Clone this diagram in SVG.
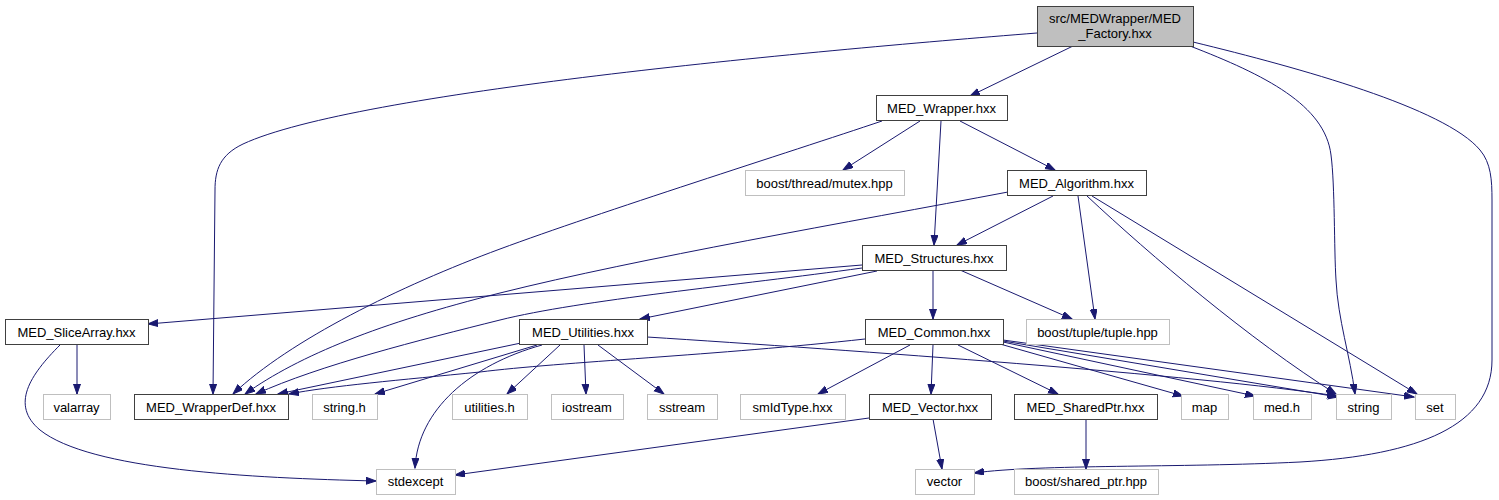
<svg xmlns="http://www.w3.org/2000/svg" width="1499" height="500" viewBox="0 0 1499 500">
<style>
.n rect{fill:#ffffff;stroke:#404040;stroke-width:1;shape-rendering:crispEdges}
.g rect{fill:#ffffff;stroke:#bfbfbf;stroke-width:1;shape-rendering:crispEdges}
.r rect{fill:#bfbfbf;stroke:#404040;stroke-width:1;shape-rendering:crispEdges}
text{font-family:"Liberation Sans",Arial,Helvetica,sans-serif;font-size:13px;text-anchor:middle;fill:#000000}
#edges path{fill:none;stroke:#191970;stroke-width:1;marker-end:url(#ah)}
</style>
<defs>
<marker id="ah" markerUnits="userSpaceOnUse" markerWidth="12" markerHeight="9" refX="10" refY="3.5" orient="auto">
<path d="M0,0 L10,3.5 L0,7 z" fill="#191970" stroke="#191970" stroke-width="1"/>
</marker>
</defs>
<rect width="1499" height="500" fill="#ffffff"/>
<g id="edges">
<path d="M1073,46 L970,96"/>
<path d="M1037,33 C810,51 355,92 243,144 C220,155 215,170 215,190 L213,394"/>
<path d="M1190,46 C1265,75 1325,105 1331,155 C1335,185 1334,250 1336,280 C1338,320 1350,355 1355,394"/>
<path d="M1193,42 C1300,68 1445,108 1480,150 C1491,163 1492,180 1492,200 L1492,360 C1492,425 1420,455 1300,462 C1180,468 1040,464 974,473"/>
<path d="M882,121 C790,152 600,212 500,249 C400,286 290,340 233,394"/>
<path d="M920,121 L843,170"/>
<path d="M941,121 L934,245"/>
<path d="M960,121 L1055,170"/>
<path d="M1053,196 L957,245"/>
<path d="M1008,192 C850,222 640,258 500,293 C380,323 300,355 245,394"/>
<path d="M1078,196 L1095,319"/>
<path d="M1087,196 C1150,255 1250,340 1336,394"/>
<path d="M1092,196 L1417,394"/>
<path d="M862,265 L148,324"/>
<path d="M862,268 C740,285 580,300 500,320 C420,340 320,365 256,394"/>
<path d="M877,271 L640,319"/>
<path d="M933,270 L933,319"/>
<path d="M960,270 L1072,319"/>
<path d="M521,343 L278,394"/>
<path d="M537,345 L375,394"/>
<path d="M542,345 C470,365 418,410 415,468"/>
<path d="M560,345 L507,394"/>
<path d="M584,345 L586,394"/>
<path d="M598,345 L664,394"/>
<path d="M647,337 C850,350 1200,375 1337,396"/>
<path d="M865,339 C720,355 560,362 480,372 C400,380 330,386 289,394"/>
<path d="M910,345 L818,394"/>
<path d="M933,345 L931,394"/>
<path d="M958,345 L1058,394"/>
<path d="M1000,344 L1183,396"/>
<path d="M1003,342 L1255,396"/>
<path d="M1003,341 L1338,397"/>
<path d="M1003,340 L1414,397"/>
<path d="M77,344 L77,394"/>
<path d="M60,345 C30,375 10,405 40,430 C90,470 250,478 376,481"/>
<path d="M869,418 L455,475"/>
<path d="M933,419 L942,469"/>
<path d="M1086,419 L1086,469"/>
</g>
<g id="n_factory" class="r"><rect x="1037" y="6" width="156" height="40"/><text x="1115" y="22.5">src/MEDWrapper/MED</text><text x="1115" y="37.5">_Factory.hxx</text></g>
<g id="n_wrapper" class="n"><rect x="876" y="95.5" width="131" height="25"/><text x="941.5" y="112.5">MED_Wrapper.hxx</text></g>
<g id="n_mutex" class="g"><rect x="745" y="170.5" width="159" height="25"/><text x="824.5" y="187.5">boost/thread/mutex.hpp</text></g>
<g id="n_algorithm" class="n"><rect x="1007" y="170.5" width="139" height="25"/><text x="1076.5" y="187.5">MED_Algorithm.hxx</text></g>
<g id="n_structures" class="n"><rect x="862" y="245.5" width="144" height="25"/><text x="934" y="262.5">MED_Structures.hxx</text></g>
<g id="n_slicearray" class="n"><rect x="5" y="319.5" width="143" height="25"/><text x="76.5" y="336.5">MED_SliceArray.hxx</text></g>
<g id="n_utilities" class="n"><rect x="519" y="319.5" width="128" height="25"/><text x="583" y="336.5">MED_Utilities.hxx</text></g>
<g id="n_common" class="n"><rect x="865" y="319.5" width="138" height="25"/><text x="934" y="336.5">MED_Common.hxx</text></g>
<g id="n_tuple" class="g"><rect x="1026" y="319.5" width="143" height="25"/><text x="1097.5" y="336.5">boost/tuple/tuple.hpp</text></g>
<g id="n_valarray" class="g"><rect x="43" y="394.5" width="67" height="25"/><text x="76.5" y="411.5">valarray</text></g>
<g id="n_wrapperdef" class="n"><rect x="134" y="394.5" width="154" height="25"/><text x="211" y="411.5">MED_WrapperDef.hxx</text></g>
<g id="n_stringh" class="g"><rect x="312" y="394.5" width="65" height="25"/><text x="344.5" y="411.5">string.h</text></g>
<g id="n_utilitiesh" class="g"><rect x="452" y="394.5" width="75" height="25"/><text x="489.5" y="411.5">utilities.h</text></g>
<g id="n_iostream" class="g"><rect x="551" y="394.5" width="72" height="25"/><text x="587" y="411.5">iostream</text></g>
<g id="n_sstream" class="g"><rect x="647" y="394.5" width="70" height="25"/><text x="682" y="411.5">sstream</text></g>
<g id="n_smidtype" class="g"><rect x="740" y="394.5" width="105" height="25"/><text x="792.5" y="411.5">smIdType.hxx</text></g>
<g id="n_vectorhxx" class="n"><rect x="869" y="394.5" width="122" height="25"/><text x="930" y="411.5">MED_Vector.hxx</text></g>
<g id="n_sharedptr" class="n"><rect x="1014" y="394.5" width="143" height="25"/><text x="1085.5" y="411.5">MED_SharedPtr.hxx</text></g>
<g id="n_map" class="g"><rect x="1181" y="394.5" width="47" height="25"/><text x="1204.5" y="411.5">map</text></g>
<g id="n_medh" class="g"><rect x="1253" y="394.5" width="58" height="25"/><text x="1282" y="411.5">med.h</text></g>
<g id="n_string" class="g"><rect x="1336" y="394.5" width="55" height="25"/><text x="1363.5" y="411.5">string</text></g>
<g id="n_set" class="g"><rect x="1415" y="394.5" width="40" height="25"/><text x="1435" y="411.5">set</text></g>
<g id="n_stdexcept" class="g"><rect x="376" y="469" width="79" height="25"/><text x="415.5" y="486">stdexcept</text></g>
<g id="n_vector" class="g"><rect x="915" y="469" width="59" height="25"/><text x="944.5" y="486">vector</text></g>
<g id="n_sharedptrhpp" class="g"><rect x="1014" y="469" width="144" height="25"/><text x="1086" y="486">boost/shared_ptr.hpp</text></g>
</svg>
